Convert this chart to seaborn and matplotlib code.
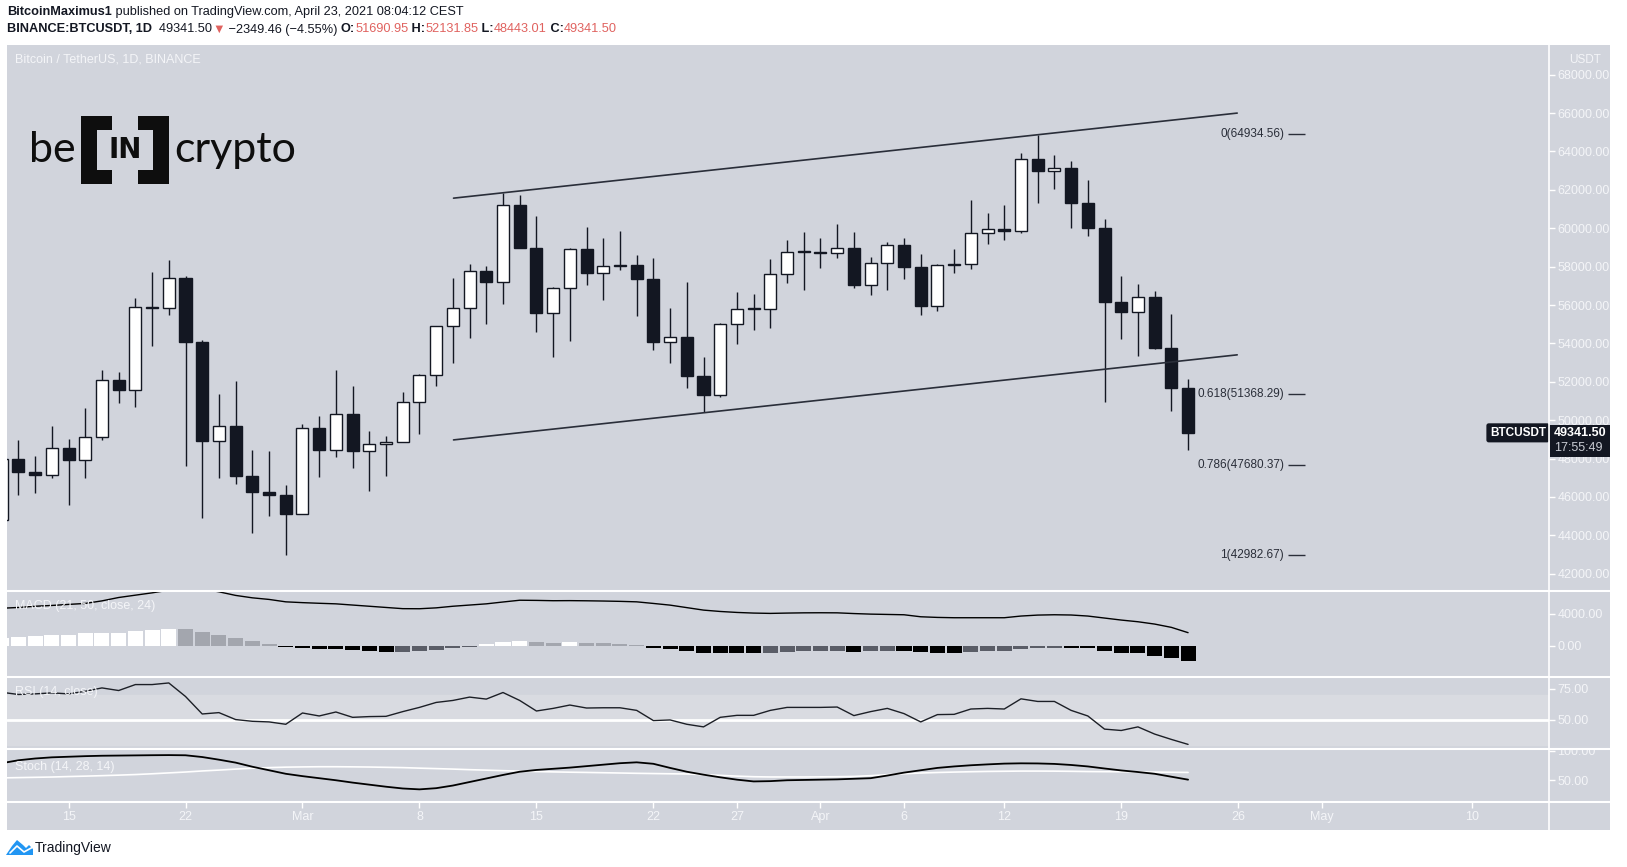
import numpy as np
import pandas as pd
import matplotlib
matplotlib.use("Agg")
import matplotlib.pyplot as plt
from matplotlib.patches import Rectangle, Polygon
from matplotlib.lines import Line2D
from matplotlib.transforms import Bbox, TransformedBbox
import seaborn as sns

# ---- data (daily candles, Feb 11 -> Apr 23 2021) ----
dates = pd.date_range("2021-02-11", "2021-04-23", freq="D")

opens = [44807, 47969, 47287, 47153, 48577, 47911, 49133, 52119, 51552, 55906, 55841, 57408, 54087, 48891, 49676, 47073, 46276, 46106,
         45135, 49587, 48440, 50349, 48374, 48751, 48882, 50971, 52375, 54884, 55851, 57773, 57221, 61188, 58968, 55605, 56900, 58912,
         57648, 58030, 58102, 57351, 54083, 54340, 52303, 51293, 55025, 55817, 55777, 57635, 58746,
         58740, 58720, 58950, 57051, 58202, 59129, 57991, 55953, 58077, 58142, 59769, 59964, 59834, 63588, 62959, 63159, 61334, 60006,
         56150, 55633, 56425, 53787, 51690.95]
highs = [48678, 48985, 48150, 49707, 49010, 50650, 52618, 52530, 56368, 57700, 58352, 57533, 54183, 51374, 52041, 48424, 48394, 46638,
         49790, 50200, 52640, 51773, 49448, 49200, 51450, 52402, 54900, 57387, 58150, 58058, 61844, 61724, 60633, 56938, 58981, 60040,
         59468, 59880, 58589, 58430, 55830, 57200, 53300, 55073, 56700, 56559, 58405, 59368, 59800,
         59490, 60200, 59791, 58492, 59297, 59474, 58655, 58153, 58894, 61450, 60790, 61199, 63900, 64854, 63800, 63520, 62506, 60499,
         57526, 57076, 56757, 55521, 52131.85]
lows = [44250, 46125, 46202, 47014, 45570, 47000, 48947, 50901, 50710, 53863, 55477, 47622, 44892, 47003, 46674, 44106, 45000, 43000,
        45115, 47047, 48100, 47500, 46300, 47070, 48882, 49274, 51789, 53005, 54273, 55013, 56078, 58966, 54600, 53271, 54123, 57020,
        56270, 57820, 55450, 53650, 53000, 51700, 50427, 51229, 53950, 54691, 54800, 57168, 56769,
        57935, 58428, 56900, 56500, 56789, 57333, 55473, 55700, 57654, 57902, 59177, 59369, 59770, 61301, 62020, 60000, 59580, 50931,
        54221, 53329, 53696, 50500, 48443.01]
closes = [47969, 47287, 47153, 48577, 47911, 49133, 52119, 51552, 55906, 55841, 57408, 54087, 48891, 49676, 47073, 46276, 46106, 45135,
          49587, 48440, 50349, 48374, 48751, 48882, 50971, 52375, 54884, 55851, 57773, 57221, 61188, 58968, 55605, 56900, 58912, 57648,
          58030, 58102, 57351, 54083, 54340, 52303, 51293, 55025, 55817, 55777, 57635, 58746, 58740,
          58720, 58950, 57051, 58202, 59129, 57991, 55953, 58077, 58142, 59769, 59964, 59834, 63588, 62959, 63159, 61334, 60006, 56150,
          55633, 56425, 53787, 51690.95, 49341.50]

macd_line = [4700, 4800, 4950, 5050, 5180, 5300, 5620, 6040, 6330, 6620, 6950, 7150, 7100, 6750, 6300, 6000, 5800, 5500,
             5400, 5320, 5250, 5100, 4950, 4800, 4650, 4640, 4750, 4950, 5100, 5250, 5480, 5700, 5680, 5640, 5650, 5630,
             5600, 5560, 5500, 5300, 5090, 4780, 4470, 4300, 4180, 4100, 4060, 4100, 4130,
             4140, 4130, 4040, 3970, 3930, 3890, 3640, 3560, 3520, 3520, 3520, 3520, 3730, 3850, 3890, 3860, 3730, 3480,
             3230, 3020, 2730, 2320, 1660]
macd_hist = [1050, 1120, 1240, 1370, 1380, 1570, 1660, 1670, 1900, 1990, 2110, 2090, 1740, 1370, 990, 620, 250, -170,
             -290, -400, -420, -540, -660, -750, -740, -620, -500, -290, -170, 250, 540, 560, 500, 370, 500, 380,
             360, 250, 120, -250, -370, -620, -900, -910, -920, -930, -910, -750, -660,
             -650, -580, -750, -660, -580, -620, -750, -820, -830, -700, -580, -570, -330, -210, -200, -210, -220, -580,
             -830, -910, -1200, -1450, -1820]
rsi = [72.3, 70.5, 71.0, 71.8, 71.0, 73.1, 75.8, 73.7, 78.5, 78.5, 79.8, 68.9, 54.8, 55.9, 50.3, 48.9, 48.4, 46.5,
       55.6, 53.2, 56.4, 52.1, 52.7, 52.9, 56.7, 60.1, 64.1, 65.7, 68.4, 66.8, 72.1, 65.7, 57.2, 59.3, 62.0, 59.6,
       59.8, 59.8, 57.7, 49.5, 50.0, 46.5, 44.4, 52.1, 53.7, 53.7, 57.7, 60.1, 60.1,
       60.1, 60.4, 53.5, 56.7, 59.3, 55.1, 48.4, 54.3, 54.5, 58.8, 59.3, 58.8, 67.0, 64.9, 64.9, 57.7, 53.2, 42.6,
       41.5, 44.4, 38.6, 34.3, 30.3]
stoch_k = [79, 84, 87, 89, 90, 91, 91.7, 92, 92.3, 92.6, 92.8, 92.5, 89.5, 85, 80, 73, 67, 61,
           57, 53.5, 50, 46, 42.5, 39, 36, 34.5, 36.5, 41, 47, 53, 59, 64.5, 67.5, 69.5, 71.5, 74,
           76.5, 79, 80.5, 78, 71, 64.5, 59.5, 55, 51, 48, 48.5, 50, 50.5,
           51, 51.5, 52.5, 53.5, 58, 63, 67, 71, 73.5, 75.5, 77, 78.3, 78.8, 78.6, 77.8, 76, 73.5, 70,
           66.7, 64, 61, 56, 51]
stoch_d = [54, 54.5, 55, 55.5, 56.3, 57, 57.8, 58.7, 59.7, 61, 62.5, 64, 65.8, 67.3, 69, 70.5, 71.5, 72.3,
           72.7, 73, 73, 72.8, 72.5, 72, 71.5, 70.6, 69.8, 69, 68, 67.2, 66.3, 65.5, 64.8, 64.2, 63.7, 63.3,
           62.8, 62.3, 61.8, 61.4, 61, 60.7, 59.5, 58.3, 57, 56, 55.6, 55.6, 55.6,
           55.8, 56, 56.5, 57.8, 59.5, 61.1, 62.3, 63.2, 63.9, 64.5, 65, 65.3, 65.6, 65.6, 65.5, 65.2, 64.8, 64.6,
           64.5, 64.2, 63.9, 63.6, 63.3]

# drawings
channel_x = [27.04, 73.94]
channel_upper = [61568, 66000]
channel_lower = [48973, 53405]
fib_ratios = ["0", "0.618", "0.786", "1"]
fib_prices = [64934.56, 51368.29, 47680.37, 42982.67]
fib_x = [77.0, 78.0]

tick_dates = ["2021-02-15", "2021-02-22", "2021-03-01", "2021-03-08", "2021-03-15", "2021-03-22", "2021-03-27",
              "2021-04-01", "2021-04-06", "2021-04-12", "2021-04-19", "2021-04-26", "2021-05-01", "2021-05-10"]
tick_labels = ["15", "22", "Mar", "8", "15", "22", "27", "Apr", "6", "12", "19", "26", "May", "10"]

# ---- style ----
sns.set_theme(style="white")
plt.rcParams["font.family"] = ["Liberation Sans", "DejaVu Sans"]

BG = "#d1d4dc"
DARK = "#131722"
LIGHT = "#f4f5f8"
RED = "#e0625f"

W, H = 1627, 867
fig = plt.figure(figsize=(W / 100, H / 100), dpi=100)
fig.patch.set_facecolor("white")


def fx(px):
    return px / W


def fy(py):
    return 1 - py / H


L, R, RR = 7.3, 1549.0, 1610.0
T_MAIN, B_MAIN, B_MACD, B_RSI, B_STO, B_TIME = 44.6, 591.4, 676.5, 749.1, 802.0, 830.0
X_LIM = (0.335, 92.6)

fig.patches.append(Rectangle((fx(L), fy(B_TIME)), fx(RR) - fx(L), (B_TIME - T_MAIN) / H,
                             transform=fig.transFigure, facecolor=BG, edgecolor="none", zorder=-1))


def pane(top, bottom):
    ax = fig.add_axes([fx(L), fy(bottom), fx(R) - fx(L), (bottom - top) / H])
    ax.set_facecolor("none")
    for s in ax.spines.values():
        s.set_visible(False)
    ax.grid(False)
    ax.yaxis.tick_right()
    ax.tick_params(axis="y", color="white", labelcolor=LIGHT, length=4, width=1, pad=2, labelsize=9)
    ax.tick_params(axis="x", bottom=False, labelbottom=False)
    return ax


x = np.arange(len(dates))
o, h, l, c = (np.array(v, dtype=float) for v in (opens, highs, lows, closes))
up = c >= o

# ---- main price pane ----
ax = pane(T_MAIN, B_MAIN)
ax.vlines(x, l, h, color=DARK, linewidth=1, zorder=2)
body_lo = np.minimum(o, c)
body_h = np.maximum(np.abs(c - o), 60)
ax.bar(x[up], body_h[up], bottom=body_lo[up], width=0.72, color="white", edgecolor=DARK, linewidth=1, zorder=3)
ax.bar(x[~up], body_h[~up], bottom=body_lo[~up], width=0.72, color=DARK, edgecolor=DARK, linewidth=1, zorder=3)
ax.plot(channel_x, channel_upper, color="#2a2e39", linewidth=1.2, zorder=4)
ax.plot(channel_x, channel_lower, color="#2a2e39", linewidth=1.2, zorder=4)
ax.hlines(fib_prices, fib_x[0], fib_x[1], color="#2a2e39", linewidth=1)
for r, p in zip(fib_ratios, fib_prices):
    ax.text(fib_x[0] - 0.25, p, f"{r}({p:.2f})", ha="right", va="center", fontsize=8.5, color="#2a2e39")
ax.set_xlim(X_LIM)
ax.set_ylim(41081, 69568)
pt = np.arange(42000, 68001, 2000)
ax.set_yticks(pt)
ax.set_yticklabels([f"{v:.2f}" for v in pt])

ax.text(0.998, closes[-1], "BTCUSDT", transform=ax.get_yaxis_transform(), ha="right", va="center",
        color="white", fontsize=8.5, fontweight="bold",
        bbox=dict(boxstyle="round,pad=0.3,rounding_size=0.2", fc=DARK, ec="none"), zorder=6)

# ---- MACD ----
axm = pane(B_MAIN, B_MACD)
hist_cols = []
for i, v in enumerate(macd_hist):
    prev = macd_hist[i - 1] if i else v
    if v >= 0:
        hist_cols.append("#ffffff" if v >= prev else "#a3a6ae")
    else:
        hist_cols.append("#000000" if v < prev else "#5a5d67")
axm.bar(x, macd_hist, width=0.9, color=hist_cols, linewidth=0, zorder=2)
sns.lineplot(x=x, y=macd_line, ax=axm, color="black", linewidth=1.0, zorder=3)
axm.set_xlim(X_LIM)
axm.set_ylim(-3800, 6800)
axm.set_yticks([0, 4000])
axm.set_yticklabels(["0.00", "4000.00"])
axm.set_xlabel("")
axm.set_ylabel("")

# ---- RSI ----
axr = pane(B_MACD, B_RSI)
axr.axhspan(30, 70, color="#d9dbe1", zorder=0)
axr.axhline(50, color="white", linewidth=2, zorder=1)
sns.lineplot(x=x, y=rsi, ax=axr, color="#1c1f26", linewidth=1, zorder=3)
axr.set_xlim(X_LIM)
axr.set_ylim(26.5, 85)
axr.set_yticks([50, 75])
axr.set_yticklabels(["50.00", "75.00"])
axr.set_xlabel("")
axr.set_ylabel("")

# ---- Stoch ----
axs = pane(B_RSI, B_STO)
sns.lineplot(x=x, y=stoch_d, ax=axs, color="white", linewidth=1.2, zorder=2)
sns.lineplot(x=x, y=stoch_k, ax=axs, color="black", linewidth=1.3, zorder=3)
axs.set_xlim(X_LIM)
axs.set_ylim(13, 103)
axs.set_yticks([50, 100])
axs.set_yticklabels(["50.00", "100.00"])
axs.set_xlabel("")
axs.set_ylabel("")
clip = TransformedBbox(Bbox.from_extents(fx(L), fy(B_STO), fx(RR), fy(B_RSI)), fig.transFigure)
for lab in axs.get_yticklabels():
    lab.set_clip_box(clip)
    lab.set_clip_on(True)

# ---- time axis ----
axt = fig.add_axes([fx(L), fy(B_TIME), fx(R) - fx(L), (B_TIME - B_STO) / H])
axt.set_facecolor("none")
for s in axt.spines.values():
    s.set_visible(False)
axt.set_xlim(X_LIM)
axt.set_ylim(0, 1)
axt.set_yticks([])
tick_x = [(pd.Timestamp(d) - dates[0]).days for d in tick_dates]
axt.set_xticks(tick_x)
axt.tick_params(axis="x", top=True, bottom=False, labelbottom=False, direction="in", length=4, width=1, color="white")
for tx, tl in zip(tick_x, tick_labels):
    axt.text(tx, 0.47, tl, ha="center", va="center", color=LIGHT, fontsize=9)

# ---- separators ----
for yy in (B_MAIN, B_MACD, B_RSI, B_STO):
    fig.lines.append(Line2D([fx(L), fx(RR)], [fy(yy), fy(yy)], transform=fig.transFigure, color="white", linewidth=1.5, zorder=4))
fig.lines.append(Line2D([fx(R), fx(R)], [fy(T_MAIN), fy(B_TIME)], transform=fig.transFigure, color="white", linewidth=1.2, zorder=4))

# ---- price tag on axis ----
yp = ax.transData.transform((0, closes[-1]))[1]
fig.patches.append(Rectangle((fx(R + 1), (yp - 24) / H), fx(RR) - fx(R + 1), 32 / H, transform=fig.transFigure,
                             facecolor=DARK, edgecolor="none", zorder=6))
fig.text(fx(R + 5), yp / H, f"{closes[-1]:.2f}", color="white", fontsize=9, fontweight="bold", va="center", zorder=7)
fig.text(fx(R + 5), (yp - 15) / H, "17:55:49", color="#c9ccd4", fontsize=9, va="center", zorder=7)
fig.text(fx(1585), fy(60), "USDT", color=LIGHT, fontsize=8.5, ha="center", va="center")

# ---- pane captions ----
fig.text(fx(14.5), fy(60), "Bitcoin / TetherUS, 1D, BINANCE", color=LIGHT, fontsize=9, va="center")
fig.text(fx(14.5), fy(606), "MACD (21, 50, close, 24)", color=LIGHT, fontsize=9, va="center", zorder=1)
fig.text(fx(14.5), fy(692), "RSI (14, close)", color=LIGHT, fontsize=9, va="center", zorder=1)
fig.text(fx(14.5), fy(767), "Stoch (14, 28, 14)", color=LIGHT, fontsize=9, va="center", zorder=1)

# ---- header ----
renderer = fig.canvas.get_renderer()


def chain(x0, y0, parts, size):
    xx = x0
    for s, col, wt in parts:
        t = fig.text(fx(xx), fy(y0), s, color=col, fontweight=wt, fontsize=size, va="center", ha="left")
        xx += t.get_window_extent(renderer=renderer).width


chain(7.3, 12, [("BitcoinMaximus1", DARK, "bold"),
                (" published on TradingView.com, April 23, 2021 08:04:12 CEST", DARK, "normal")], 9.2)
chain(7.3, 29.5, [("BINANCE:BTCUSDT, 1D", DARK, "bold"), ("  49341.50", DARK, "normal"), ("\u25bc", RED, "normal"),
                  (" \u22122349.46 (\u22124.55%) ", DARK, "normal"), ("O:", DARK, "bold"), ("51690.95", RED, "normal"),
                  (" H:", DARK, "bold"), ("52131.85", RED, "normal"), (" L:", DARK, "bold"), ("48443.01", RED, "normal"),
                  (" C:", DARK, "bold"), ("49341.50", RED, "normal")], 9.2)

# ---- beincrypto logo ----
LOGO = "#0e0e0e"
fig.text(fx(29), fy(162), "be", fontsize=31, color=LOGO, family=["Lato", "DejaVu Sans"], fontweight="normal", va="baseline")
fig.text(fx(174), fy(162), "crypto", fontsize=31, color=LOGO, family=["Lato", "DejaVu Sans"], fontweight="normal", va="baseline")
for (x0, y0, x1, y1) in [(81, 116, 97, 184), (81, 116, 112, 130), (81, 170, 112, 184),
                         (153, 116, 169, 184), (138, 116, 169, 130), (138, 170, 169, 184)]:
    fig.patches.append(Rectangle((fx(x0), fy(y1)), fx(x1) - fx(x0), (y1 - y0) / H, transform=fig.transFigure,
                                 facecolor=LOGO, edgecolor="none", zorder=5))
fig.text(fx(125), fy(150), "IN", fontsize=20, color=LOGO, family=["DejaVu Sans"], fontweight="bold",
         ha="center", va="center", zorder=6)

# ---- footer ----
icon = [(6, 855), (12, 846), (17, 840), (23, 845), (26, 848), (29, 845), (33, 849), (33, 855)]
fig.patches.append(Polygon([(fx(px), fy(py)) for px, py in icon], closed=True, transform=fig.transFigure,
                           facecolor="#2196f3", edgecolor="none"))
fig.lines.append(Line2D([fx(10), fx(17), fx(24), fx(33)], [fy(853), fy(846), fy(852), fy(847)],
                        transform=fig.transFigure, color="white", linewidth=1.2))
fig.text(fx(35), fy(848), "TradingView", color=DARK, fontsize=10, va="center")

fig.savefig("out.png", dpi=100, facecolor="white")
